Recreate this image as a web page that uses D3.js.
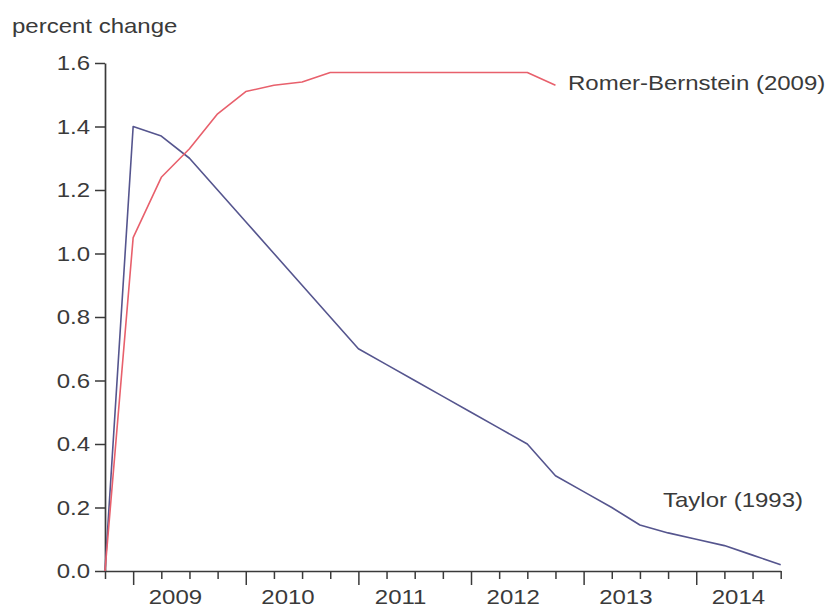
<!DOCTYPE html>
<html>
<head>
<meta charset="utf-8">
<script src="https://cdn.jsdelivr.net/npm/d3@7"></script>
<style>
  html, body { margin: 0; padding: 0; background: #fff; }
  svg { display: block; font-family: "Liberation Sans", Arial, sans-serif; }
</style>
</head>
<body>
<svg id="chart" width="826" height="608"></svg>
<script>
// Quarterly periods, 2008Q4 through 2014Q4
const quarters = [
  "2008Q4",
  "2009Q1","2009Q2","2009Q3","2009Q4",
  "2010Q1","2010Q2","2010Q3","2010Q4",
  "2011Q1","2011Q2","2011Q3","2011Q4",
  "2012Q1","2012Q2","2012Q3","2012Q4",
  "2013Q1","2013Q2","2013Q3","2013Q4",
  "2014Q1","2014Q2","2014Q3","2014Q4"
];
const years = [2009, 2010, 2011, 2012, 2013, 2014];

// Taylor (1993) multiplier path, percent change
const taylor = [
  0.00,
  1.40, 1.37, 1.30, 1.20,
  1.10, 1.00, 0.90, 0.80,
  0.70, 0.65, 0.60, 0.55,
  0.50, 0.45, 0.40, 0.30,
  0.25, 0.20, 0.145, 0.12,
  0.10, 0.08, 0.05, 0.02
];

// Romer-Bernstein (2009) path, percent change (ends 2012Q4)
const romer = [
  0.00,
  1.05, 1.24, 1.33, 1.44,
  1.51, 1.53, 1.54, 1.57,
  1.57, 1.57, 1.57, 1.57,
  1.57, 1.57, 1.57, 1.53
];

const yTicks = [0.0, 0.2, 0.4, 0.6, 0.8, 1.0, 1.2, 1.4, 1.6];

const svg = d3.select("#chart");
const textColor = "#3a3a3a";
const axisColor = "#3a3a3a";
const fontSize = 20;
const stretch = 1.2;   // the typeface is set slightly wide

// Place a label at (px, py) with the wide type setting
function label(parent, px, py, str, anchor) {
  parent.append("text")
    .attr("transform", `translate(${px},${py}) scale(${stretch},1)`)
    .attr("text-anchor", anchor || "start")
    .attr("fill", textColor)
    .style("font-size", fontSize + "px")
    .text(str);
}

const x = d3.scaleLinear().domain([0, quarters.length - 1]).range([105, 780.7]);
const y = d3.scaleLinear().domain([0, 1.6]).range([571, 63]);

// Y axis
const yAxis = svg.append("g")
  .attr("transform", `translate(${x(0)},0)`)
  .call(d3.axisLeft(y).tickValues(yTicks).tickFormat("").tickSize(10).tickSizeOuter(0));
yAxis.select(".domain").attr("stroke", axisColor).attr("stroke-width", 1.7);
yAxis.selectAll(".tick line").attr("stroke", axisColor).attr("stroke-width", 1.5);

const yLabels = svg.append("g");
yTicks.forEach(v => label(yLabels, 90, y(v) + 7, d3.format(".1f")(v), "end"));

// X axis: a tick per quarter, taller ticks at each first quarter
const xAxis = svg.append("g")
  .attr("transform", `translate(0,${y(0)})`)
  .call(d3.axisBottom(x).tickValues(d3.range(quarters.length)).tickFormat("").tickSize(8).tickSizeOuter(0));
xAxis.select(".domain").attr("stroke", axisColor).attr("stroke-width", 1.7);
xAxis.selectAll(".tick line")
  .attr("stroke", axisColor)
  .attr("stroke-width", 1.5)
  .attr("y2", d => quarters[d].endsWith("Q1") ? 14 : 8);

// Year labels centred over Q1..Q4 of each year
const yearLabels = svg.append("g");
years.forEach(yr => {
  const i = quarters.indexOf(yr + "Q1");
  label(yearLabels, (x(i) + x(i + 3)) / 2, 604, String(yr), "middle");
});

// Axis title
label(svg, 12, 33, "percent change");

const line = d3.line()
  .x((d, i) => x(i))
  .y(d => y(d));

svg.append("path")
  .datum(taylor)
  .attr("d", line)
  .attr("fill", "none")
  .attr("stroke", "#55558e")
  .attr("stroke-width", 1.6)
  .attr("stroke-linejoin", "round");

svg.append("path")
  .datum(romer)
  .attr("d", line)
  .attr("fill", "none")
  .attr("stroke", "#e8606c")
  .attr("stroke-width", 1.6)
  .attr("stroke-linejoin", "round");

// Series labels
label(svg, 568, 90, "Romer-Bernstein (2009)");
label(svg, 663, 507, "Taylor (1993)");
</script>
</body>
</html>
